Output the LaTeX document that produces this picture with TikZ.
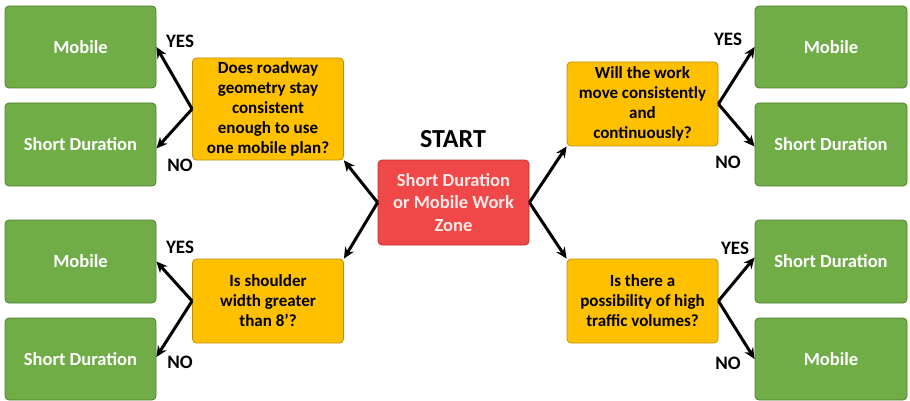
\documentclass[tikz,border=0pt]{standalone}
\usepackage{fontspec}
\setmainfont{Carlito}
\usetikzlibrary{arrows.meta}
\definecolor{gfill}{RGB}{112,173,71}
\definecolor{gdraw}{RGB}{80,126,50}
\definecolor{yfill}{RGB}{255,192,0}
\definecolor{ydraw}{RGB}{190,144,0}
\definecolor{rfill}{RGB}{240,72,72}
\definecolor{rdraw}{RGB}{190,50,50}
\definecolor{rtext}{RGB}{255,232,232}
\tikzset{
  gbox/.style={draw=gdraw, fill=gfill, line width=0.8pt, rounded corners=4pt,
    minimum width=151pt, minimum height=82pt, text=white, font=\bfseries\fontsize{18.5}{21}\selectfont, align=center, inner sep=0pt},
  ybox/.style={draw=ydraw, fill=yfill, line width=0.8pt, rounded corners=4pt,
    minimum width=151pt, text=black, font=\bfseries\fontsize{17}{20}\selectfont, align=center, inner sep=0pt},
  rbox/.style={draw=rdraw, fill=rfill, line width=0.8pt, rounded corners=4pt,
    minimum width=151pt, minimum height=85pt, text=rtext, font=\bfseries\fontsize{18.5}{22.5}\selectfont, align=center, inner sep=0pt},
  lbl/.style={font=\bfseries\fontsize{19}{22}\selectfont, text=black, inner sep=0pt},
  arr/.style={line width=3pt, -{Stealth[length=11pt,width=10pt]}}
}
\begin{document}
\begin{tikzpicture}[x=1pt,y=-1pt]
\useasboundingbox (0,0) rectangle (910,401);
% green boxes left
\node[gbox] (lm1) at (80.5,47) {Mobile};
\node[gbox, minimum height=83pt] (ls1) at (80.5,144.5) {Short Duration};
\node[gbox, minimum height=83pt] (lm2) at (80.5,261.5) {Mobile};
\node[gbox] (ls2) at (80.5,359) {Short Duration};
% green boxes right
\node[gbox, minimum width=152pt] (rm1) at (831,47) {Mobile};
\node[gbox, minimum width=152pt, minimum height=83pt] (rs1) at (831,144.5) {Short Duration};
\node[gbox, minimum width=152pt, minimum height=83pt] (rs2) at (831,261.5) {Short Duration};
\node[gbox, minimum width=152pt] (rm2) at (831,359) {Mobile};
% yellow
\node[ybox, minimum height=102pt] (q1) at (268,109) {Does roadway\\geometry stay\\consistent\\enough to use\\one mobile plan?};
\node[ybox, minimum height=84pt] (q2) at (268,301) {Is shoulder\\width greater\\than 8’?};
\node[ybox, minimum height=84pt] (q3) at (642.5,104) {Will the work\\move consistently\\and\\continuously?};
\node[ybox, minimum height=84pt] (q4) at (642.5,301) {Is there a\\possibility of high\\traffic volumes?};
% red
\node[rbox] (st) at (453.5,202.5) {Short Duration\\or Mobile Work\\Zone};
\node[font=\bfseries\fontsize{26}{30}\selectfont, inner sep=0pt] (title) at (453,139) {START};
% arrows from start
\draw[arr] (st.west) -- (q1.south east);
\draw[arr] (st.west) -- (q2.north east);
\draw[arr] (st.east) -- (q3.south west);
\draw[arr] (st.east) -- (q4.north west);
% arrows from questions
\draw[arr] (q1.west) -- (lm1.east);
\draw[arr] (q1.west) -- ([yshift=-4pt]ls1.east);
\draw[arr] (q2.west) -- (lm2.east);
\draw[arr] (q2.west) -- ([yshift=2pt]ls2.east);
\draw[arr] (q3.east) -- (rm1.west);
\draw[arr] (q3.east) -- ([yshift=-2pt]rs1.west);
\draw[arr] (q4.east) -- ([yshift=4pt]rs2.west);
\draw[arr] (q4.east) -- (rm2.west);
% labels
\node[lbl] (y1) at (180,41) {YES};
\node[lbl] (n1) at (180,165) {NO};
\node[lbl] (y2) at (180,247) {YES};
\node[lbl] (n2) at (180,362) {NO};
\node[lbl] (y3) at (728,39) {YES};
\node[lbl] (n3) at (728,162) {NO};
\node[lbl] (y4) at (735,248) {YES};
\node[lbl] (n4) at (728,363) {NO};
\end{tikzpicture}
\end{document}
